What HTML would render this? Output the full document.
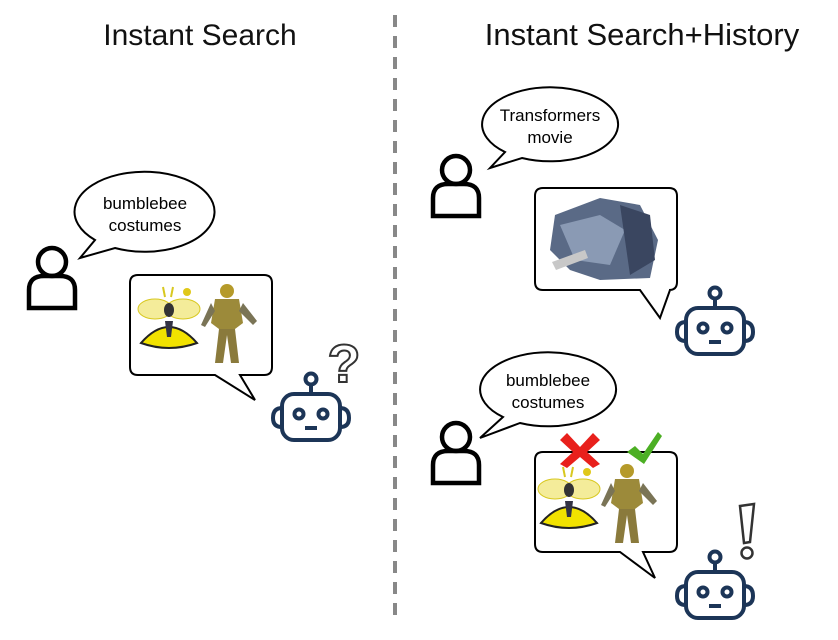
<!DOCTYPE html>
<html><head><meta charset="utf-8"><style>
html,body{margin:0;padding:0;background:#fff;}
svg{display:block;font-family:"Liberation Sans",sans-serif;}
</style></head><body>
<svg width="838" height="640" viewBox="0 0 838 640" xmlns="http://www.w3.org/2000/svg">
<defs>
<g id="user" fill="none" stroke="#000" stroke-width="4.5">
  <circle cx="0" cy="-16" r="14"/>
  <path d="M-23 30 L-23 12 Q-23 -2 -8 -2 L8 -2 Q23 -2 23 12 L23 30 Z"/>
</g>
<g id="robot" fill="none" stroke="#1c3557" stroke-width="4">
  <circle cx="0" cy="-37" r="5.5"/>
  <line x1="0" y1="-31" x2="0" y2="-22"/>
  <rect x="-29" y="-22" width="58" height="46" rx="12"/>
  <path d="M-29 -8 Q-38 -8 -38 2 Q-38 11 -29 11"/>
  <path d="M29 -8 Q38 -8 38 2 Q38 11 29 11"/>
  <circle cx="-12" cy="-2" r="4.5"/>
  <circle cx="12" cy="-2" r="4.5"/>
  <line x1="-6" y1="12" x2="6" y2="12"/>
</g>
<g id="costumes">
  <line x1="-42" y1="-38" x2="-40" y2="-28" stroke="#d8c820" stroke-width="2"/>
  <line x1="-32" y1="-38" x2="-34" y2="-28" stroke="#d8c820" stroke-width="2"/>
  <circle cx="-18" cy="-33" r="4" fill="#e0c818"/>
  <ellipse cx="-50" cy="-16" rx="17" ry="10" fill="#f4ec9a" stroke="#d8c820"/>
  <ellipse cx="-22" cy="-16" rx="17" ry="10" fill="#f4ec9a" stroke="#d8c820"/>
  <ellipse cx="-36" cy="-15" rx="5" ry="7" fill="#333"/>
  <path d="M-64 18 Q-36 -14 -8 18 Q-36 28 -64 18 Z" fill="#f2e200" stroke="#222" stroke-width="2"/>
  <path d="M-40 -4 L-32 -4 L-34 12 L-38 12 Z" fill="#334"/>
  <circle cx="22" cy="-34" r="7" fill="#b59a2a"/>
  <path d="M10 -26 L34 -26 L38 -2 L30 4 L14 4 L6 -2 Z" fill="#9c8a3a"/>
  <path d="M6 -22 L-4 0 L0 2 L10 -14 Z" fill="#7a7456"/>
  <path d="M38 -22 L52 -4 L48 0 L34 -14 Z" fill="#7a7456"/>
  <path d="M14 4 L10 38 L18 38 L22 10 L26 38 L34 38 L30 4 Z" fill="#8a7a3c"/>
</g>
</defs>

<text x="200" y="45" font-size="30" text-anchor="middle" fill="#111">Instant Search</text>
<text x="642" y="45" font-size="31" text-anchor="middle" fill="#111">Instant Search+History</text>
<line x1="395" y1="15" x2="395" y2="622" stroke="#888" stroke-width="4" stroke-dasharray="12 9"/>

<use href="#user" x="52" y="278"/>
<path d="M95 240 A70 40 0 1 1 115 248 L80 258 Z" fill="#fff" stroke="#000" stroke-width="2"/>
<text x="145" y="209" font-size="17" text-anchor="middle">bumblebee</text>
<text x="145" y="231" font-size="17" text-anchor="middle">costumes</text>
<path d="M138 275 L264 275 Q272 275 272 283 L272 367 Q272 375 264 375 L240 375 L255 400 L215 375 L138 375 Q130 375 130 367 L130 283 Q130 275 138 275 Z" fill="#fff" stroke="#000" stroke-width="2"/>
<use href="#costumes" x="205" y="325"/>
<use href="#robot" x="311" y="416"/>
<text x="344" y="382" font-size="54" font-weight="bold" text-anchor="middle" fill="#fff" stroke="#333" stroke-width="2">?</text>

<use href="#user" x="456" y="186"/>
<path d="M505 152 A68 37 0 1 1 522 158 L490 168 Z" fill="#fff" stroke="#000" stroke-width="2"/>
<text x="550" y="121" font-size="17" text-anchor="middle">Transformers</text>
<text x="550" y="143" font-size="17" text-anchor="middle">movie</text>
<path d="M543 188 L669 188 Q677 188 677 196 L677 282 Q677 290 669 290 L670 290 L660 318 L640 290 L543 290 Q535 290 535 282 L535 196 Q535 188 543 188 Z" fill="#fff" stroke="#000" stroke-width="2"/>
<path d="M555 215 L600 198 L640 205 L658 240 L650 278 L600 280 L570 270 L550 250 Z" fill="#5a6a86"/>
<path d="M560 225 L600 215 L625 230 L610 265 L575 260 Z" fill="#8a9ab4"/>
<path d="M620 205 L650 215 L655 260 L630 275 Z" fill="#3a4660"/>
<path d="M552 262 L585 250 L588 258 L556 270 Z" fill="#c8c8c8"/>
<use href="#robot" x="715" y="330"/>

<path d="M503 417 A68 37 0 1 1 520 423 L480 438 Z" fill="#fff" stroke="#000" stroke-width="2"/>
<text x="548" y="386" font-size="17" text-anchor="middle">bumblebee</text>
<text x="548" y="408" font-size="17" text-anchor="middle">costumes</text>
<use href="#user" x="456" y="453"/>
<path d="M543 452 L669 452 Q677 452 677 460 L677 544 Q677 552 669 552 L643 552 L655 578 L620 552 L543 552 Q535 552 535 544 L535 460 Q535 452 543 452 Z" fill="#fff" stroke="#000" stroke-width="2"/>
<use href="#costumes" x="605" y="505"/>
<path d="M567 433 L580 447 L593 433 L600 440 L587 452 L600 464 L593 468 L580 457 L567 468 L560 464 L573 452 L560 440 Z" fill="#e8201c"/>
<path d="M627 452 L635 446 L643 454 L658 432 L662 436 L644 464 Z" fill="#4caf24"/>
<use href="#robot" x="715" y="594"/>
<path d="M740 506 L754 504 L750 542 L744 543 Z" fill="#fff" stroke="#333" stroke-width="2.5"/>
<circle cx="747" cy="553" r="5.5" fill="#fff" stroke="#333" stroke-width="2.5"/>
</svg>
</body></html>
